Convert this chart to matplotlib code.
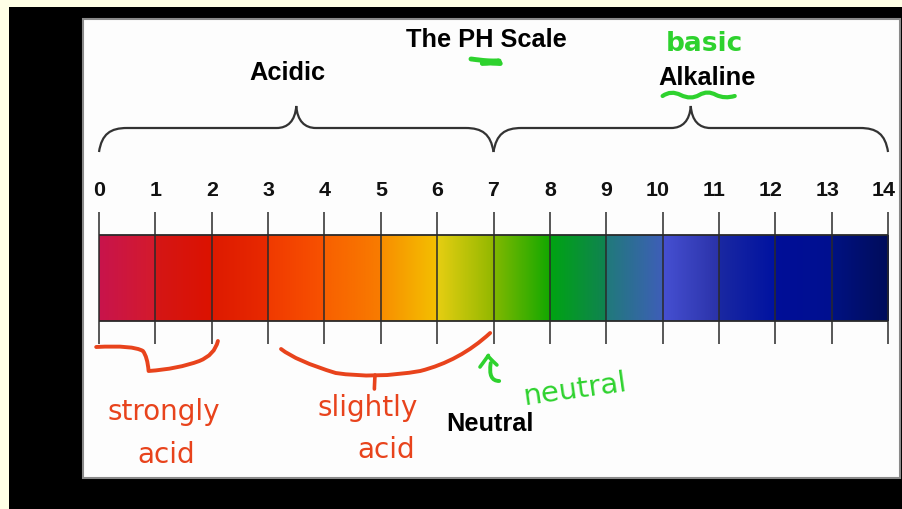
import numpy as np
import matplotlib
matplotlib.use("Agg")
import matplotlib.pyplot as plt
from matplotlib import font_manager
from matplotlib.patches import Rectangle, PathPatch
from matplotlib.path import Path
from matplotlib.colors import to_rgb

# pH scale data
ph_values = list(range(0, 15))
seg_start = ["#C8144C", "#D41616", "#DE1A00", "#F03A00", "#F86000", "#F88E00", "#E6CE12",
             "#80B800", "#00A412", "#207A7A", "#4650D2", "#1A28A2", "#000E98", "#001282"]
seg_end = ["#D41A2C", "#DC1200", "#E82A00", "#F85200", "#F87C00", "#F4C000", "#92B800",
           "#12A800", "#108252", "#3E5EB8", "#2A32A8", "#0012A0", "#001090", "#000C5A"]
group_labels = ["Acidic", "Alkaline"]
group_ranges = [(0, 7), (7, 14)]
title = "The PH Scale"

names = {f.name for f in font_manager.fontManager.ttflist}
narrow = "Liberation Sans Narrow" if "Liberation Sans Narrow" in names else "Liberation Sans"
big = 21 if narrow == "Liberation Sans Narrow" else 18.3

RED = "#E8431C"
GREEN = "#2ED22E"

fig = plt.figure(figsize=(9.02, 5.10), dpi=100, facecolor="#FFFFE6")
# black video frame + white slide
fig.patches.append(Rectangle((9 / 902, 0), 893 / 902, 502 / 510, transform=fig.transFigure,
                             facecolor="black", edgecolor="none", zorder=-3))
fig.patches.append(Rectangle((83 / 902, 31 / 510), 817 / 902, 459 / 510, transform=fig.transFigure,
                             facecolor="#FDFDFD", edgecolor="#8A8A8A", lw=1.5, zorder=-2))

ax = fig.add_axes([83 / 902, 31 / 510, 817 / 902, 459 / 510])
ax.set_axis_off()
ax.patch.set_visible(False)

# gradient bar, one piece per pH unit
for i in range(len(seg_start)):
    c0 = np.array(to_rgb(seg_start[i]))
    c1 = np.array(to_rgb(seg_end[i]))
    t = np.linspace(0, 1, 64)[:, None]
    grad = (c0 * (1 - t) + c1 * t)[None, :, :]
    ax.imshow(grad, extent=[ph_values[i], ph_values[i + 1], 322, 236], aspect="auto",
              interpolation="bilinear", zorder=2)

ax.vlines(ph_values, 213, 345, color="#2A2A2A", lw=1.1, zorder=3)
ax.hlines([236, 322], ph_values[0], ph_values[-1], color="#2A2A2A", lw=1.3, zorder=3)

for v in ph_values:
    ax.text(v - (0.08 if v >= 10 else 0), 191, str(v), ha="center", va="center",
            fontsize=big * 0.84, fontweight="bold", family=narrow, color="#111111")


def brace(a, b, y0, y1, tip):
    m = (a + b) / 2
    verts = [(a, y0),
             (a + 0.05, y1 + 6), (a + 0.2, y1), (a + 0.5, y1),
             (m - 0.35, y1),
             (m - 0.15, y1), (m - 0.02, y1 - 7), (m, tip),
             (m + 0.02, y1 - 7), (m + 0.15, y1), (m + 0.35, y1),
             (b - 0.5, y1),
             (b - 0.2, y1), (b - 0.05, y1 + 6), (b, y0)]
    codes = [Path.MOVETO, Path.CURVE4, Path.CURVE4, Path.CURVE4, Path.LINETO,
             Path.CURVE4, Path.CURVE4, Path.CURVE4, Path.CURVE4, Path.CURVE4, Path.CURVE4,
             Path.LINETO, Path.CURVE4, Path.CURVE4, Path.CURVE4]
    ax.add_patch(PathPatch(Path(verts, codes), facecolor="none", edgecolor="#333333",
                           lw=1.6, zorder=3))


for (a, b) in group_ranges:
    brace(a, b, 153, 129, 107)

ax.text(6.87, 40, title, ha="center", va="center", fontsize=big, fontweight="bold", family=narrow)
ax.text(3.34, 73, group_labels[0], ha="center", va="center", fontsize=big, fontweight="bold", family=narrow)
ax.text(10.79, 78, group_labels[1], ha="center", va="center", fontsize=big, fontweight="bold", family=narrow)
ax.text(6.94, 424, "Neutral", ha="center", va="center", fontsize=big, fontweight="bold", family=narrow)


# hand-written annotations
def stroke(pts, color, lw=2.6):
    xs, ys = zip(*pts)
    ln, = ax.plot(xs, ys, color=color, lw=lw, solid_capstyle="round", solid_joinstyle="round", zorder=5)
    ln.set_sketch_params(scale=0.6, length=60, randomness=2)


def curve(pts, color, lw=2.8):
    # quadratic bezier chain: start, (ctrl, end), (ctrl, end) ...
    codes = [Path.MOVETO] + [Path.CURVE3] * (len(pts) - 1)
    ax.add_patch(PathPatch(Path(pts, codes), facecolor="none", edgecolor=color, lw=lw,
                           capstyle="round", joinstyle="round", zorder=5))


curve([(-0.05, 348), (0.6, 346), (0.78, 352), (0.86, 358), (0.88, 372),
       (1.4, 370), (1.78, 362), (2.05, 356), (2.11, 342)], RED)
curve([(3.23, 350), (3.5, 362), (4.2, 374), (4.9, 380), (5.7, 372),
       (6.4, 362), (6.94, 334)], RED)
stroke([(4.9, 376), (4.9, 390)], RED)
ax.text(1.14, 412, "strongly", ha="center", va="center", fontsize=20, color=RED)
ax.text(1.2, 455, "acid", ha="center", va="center", fontsize=20, color=RED)
ax.text(4.77, 408, "slightly", ha="center", va="center", fontsize=20, color=RED)
ax.text(5.1, 450, "acid", ha="center", va="center", fontsize=20, color=RED)

stroke([(6.76, 368), (6.9, 356), (7.06, 366)], GREEN)
curve([(6.95, 364), (6.9, 382), (7.1, 382)], GREEN)
ax.text(8.45, 390, "neutral", ha="center", va="center", fontsize=21, color=GREEN, rotation=8)
ax.text(10.75, 44, "basic", ha="center", va="center", fontsize=19, color=GREEN, fontweight="bold")
stroke([(6.6, 60), (7.1, 62), (6.8, 64), (7.12, 64)], GREEN, lw=3.5)
curve([(10.0, 97), (10.15, 91), (10.32, 96), (10.5, 101), (10.65, 96),
       (10.8, 91), (10.95, 96), (11.1, 100), (11.28, 97)], GREEN, lw=3)

ax.set_xlim((83 - 99) / 56.36, (900 - 99) / 56.36)
ax.set_ylim(479, 20)

fig.savefig("out.png", dpi=100, facecolor=fig.get_facecolor())
